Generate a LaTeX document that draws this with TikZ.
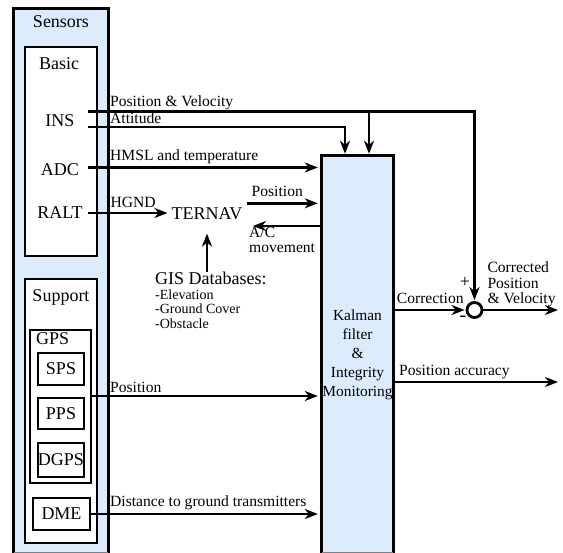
\documentclass[tikz,border=0pt]{standalone}
\usepackage{fontspec}
\setmainfont{Liberation Serif}
\usetikzlibrary{arrows.meta}
\definecolor{lb}{RGB}{220,236,252}
\begin{document}
\begin{tikzpicture}[x=1pt,y=-1pt,
  ln/.style={line width=2.8pt},
  box/.style={draw, line width=2.8pt, inner sep=0pt, fill=white},
  lbl/.style={font=\fontsize{15.6}{16}\selectfont, inner sep=0pt},
  big/.style={font=\fontsize{18}{19}\selectfont, inner sep=0pt},
  small/.style={font=\fontsize{14}{14.5}\selectfont, inner sep=0pt},
  arr/.style={line width=2.8pt, -{Stealth[length=13pt,width=10pt,inset=4pt]}},
]
\useasboundingbox (0,0) rectangle (563,553);

% Sensors container
\node[fill=lb, minimum width=94pt, minimum height=544pt, inner sep=0pt] (sensors) at (61,281) {};
\draw[ln] (sensors.south west) -- (sensors.north west) -- (sensors.north east) -- (sensors.south east);
\draw[gray, line width=0.8pt] ([yshift=0.6pt]sensors.south west) -- ([yshift=0.6pt]sensors.south east);
\node[big, anchor=base] (sensorslbl) at (61,27.3) {Sensors};

% Basic
\node[box, minimum width=72pt, minimum height=209pt] (basic) at (61,151.5) {};
\node[big, anchor=base] (basiclbl) at (59,70) {Basic};
\node[big, minimum width=56pt] (INS) at (60,121) {INS};
\node[big, minimum width=56pt] (ADC) at (60,169.5) {ADC};
\node[big, minimum width=56pt] (RALT) at (60,213) {RALT};

% Support
\node[box, minimum width=72pt, minimum height=264pt] (support) at (61,411) {};
\node[big, anchor=base] (supportlbl) at (61,301.7) {Support};
\node[box, minimum width=61pt, minimum height=153pt] (GPS) at (60.5,406.5) {};
\node[big, anchor=base west] (gpslbl) at (36,345) {GPS};
\node[box, big, minimum width=46pt, minimum height=32pt] (SPS) at (61,369) {SPS};
\node[box, big, minimum width=46pt, minimum height=31pt] (PPS) at (61,413.5) {PPS};
\node[box, big, minimum width=46pt, minimum height=34pt] (DGPS) at (61,460) {DGPS};
\node[box, big, minimum width=57pt, minimum height=32pt] (DME) at (61.5,514) {DME};

% Kalman
\node[fill=lb, minimum width=71pt, minimum height=397pt, inner sep=0pt, align=center,
      font=\fontsize{15.4}{19}\selectfont] (Kalman) at (357.5,354.5)
      {Kalman\\filter\\\&\\Integrity\\Monitoring};
\draw[ln] (Kalman.south west) -- (Kalman.north west) -- (Kalman.north east) -- (Kalman.south east);
\draw[gray, line width=0.8pt] ([yshift=0.6pt]Kalman.south west) -- ([yshift=0.6pt]Kalman.south east);

% TERNAV and GIS
\node[big, inner sep=4pt] (TERNAV) at (207,213.3) {TERNAV};
\node[big, anchor=base west, inner sep=0pt] (GIS) at (155,285) {GIS Databases:};
\node[small, anchor=base west, align=left] (GISlist) at (155,328.3) {-Elevation\\-Ground Cover\\-Obstacle};

% summing junction
\node[circle, draw, line width=2.8pt, fill=white, minimum size=15pt, inner sep=0pt] (sum) at (474.5,310) {};

% coordinates
\coordinate (pvstart) at ([yshift=9.5pt]INS.east);
\coordinate (attstart) at ([yshift=-6pt]INS.east);
\coordinate (pvc) at (474.5,111.5);
\coordinate (pvj) at (369,111.5);
\coordinate (attc) at (345,127);
\coordinate (adcout) at ([yshift=2pt]ADC.east);
\coordinate (tpos) at ([yshift=10pt]TERNAV.east);
\coordinate (acm) at (253,226);
\coordinate (gpsout) at ([yshift=10.5pt]GPS.east);
\coordinate (outc) at (558,310);
\coordinate (pacc) at (558,382);

% connectors
\draw[arr, shorten >=1pt] (pvstart) -- (pvc) -- (sum.north);
\draw[arr, shorten >=2pt] (pvj) -- (pvj |- Kalman.north);
\draw[arr, shorten >=2pt] (attstart) -- (attc) -- (attc |- Kalman.north);
\draw[arr, shorten >=4pt] (adcout) -- (adcout -| Kalman.west);
\draw[arr] (RALT.east) -- (RALT.east -| TERNAV.west);
\draw[arr, shorten >=4pt] (tpos) -- (tpos -| Kalman.west);
\draw[arr] (acm -| Kalman.west) -- (acm);
\draw[arr, shorten >=10pt] (GIS.north -| TERNAV.south) -- (TERNAV.south);
\draw[arr, shorten >=4pt] (gpsout) -- (gpsout -| Kalman.west);
\draw[arr, shorten >=4pt] (DME.east) -- (DME.east -| Kalman.west);
\draw[arr, shorten >=1pt] (Kalman.east |- sum) -- (sum.west);
\draw[arr] (sum.east) -- (outc);
\draw[arr] (Kalman.east |- pacc) -- (pacc);

% labels
\node[lbl, anchor=base west] (l1) at (110,107) {Position \& Velocity};
\node[lbl, anchor=base west] (l2) at (110,123.3) {Attitude};
\node[lbl, anchor=base west] (l3) at (110,160.7) {HMSL and temperature};
\node[lbl, anchor=base west] (l4) at (110.5,207.3) {HGND};
\node[lbl, anchor=base west] (l5) at (251.5,196.7) {Position};
\node[lbl, anchor=base west, align=left, font=\fontsize{15.6}{14.5}\selectfont] (l6) at (249,252.5) {A/C\\movement};
\node[lbl, anchor=base west] (l7) at (110,392.7) {Position};
\node[lbl, anchor=base west] (l8) at (110,506.7) {Distance to ground transmitters};
\node[lbl, anchor=base west] (l9) at (396.7,304) {Correction};
\node[lbl, anchor=base west] (l10) at (399,376) {Position accuracy};
\node[lbl, anchor=base west, align=left, font=\fontsize{15.6}{15.7}\selectfont] (l11) at (487.3,304) {Corrected\\Position\\\& Velocity};
\node[lbl, font=\fontsize{18}{18}\selectfont] (plus) at (465,282) {+};
\node[lbl, font=\fontsize{20}{20}\selectfont] (minus) at (463,318.5) {-};
\end{tikzpicture}
\end{document}
